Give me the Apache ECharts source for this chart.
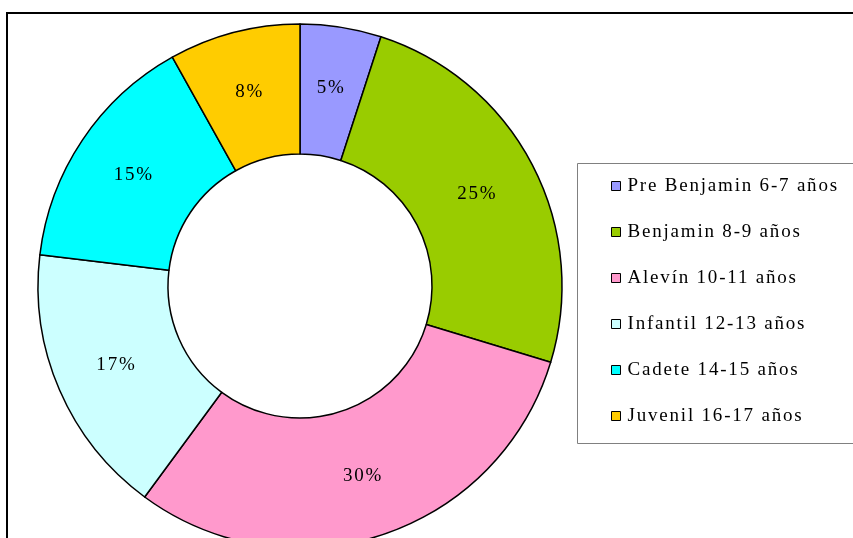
<!DOCTYPE html>
<html>
<head>
<meta charset="utf-8">
<script src="https://cdn.jsdelivr.net/npm/echarts@6/dist/echarts.min.js"></script>
<style>
  html, body { margin: 0; padding: 0; background: #fff; }
  #ch1 { width: 853px; height: 538px; }
</style>
</head>
<body>
<div id="ch1"></div>
<script>
var categories = ['Pre Benjamin 6-7 años', 'Benjamin 8-9 años', 'Alevín 10-11 años',
  'Infantil 12-13 años', 'Cadete 14-15 años', 'Juvenil 16-17 años'];
var values = [5, 24.7, 30.4, 16.8, 15, 8.1];
var colors = ['#9999FF', '#99CC00', '#FF99CC', '#CCFFFF', '#00FFFF', '#FFCC00'];

// Excel-style spaced text
var origFillText = CanvasRenderingContext2D.prototype.fillText;
CanvasRenderingContext2D.prototype.fillText = function() {
  this.letterSpacing = '1.8px';
  var r = origFillText.apply(this, arguments);
  this.letterSpacing = '0px';
  return r;
};

window.onload = function() {
  var ch1 = echarts.init(document.getElementById('ch1'));
  var serif = '"Liberation Serif", "Times New Roman", serif';

  var data = [];
  for (var i = 0; i < categories.length; i++) {
    data.push({ name: categories[i], value: values[i], itemStyle: { color: colors[i] } });
  }

  var op1 = {
    backgroundColor: '#fff',
    animation: false,
    graphic: [{
      // outer chart frame
      type: 'rect',
      shape: { x: 7, y: 13, width: 900, height: 600 },
      style: { fill: 'none', stroke: '#000', lineWidth: 2 },
      z: 0
    }, {
      // legend box
      type: 'rect',
      shape: { x: 577.5, y: 163.5, width: 300, height: 280 },
      style: { fill: '#fff', stroke: '#808080', lineWidth: 1 },
      z: 0
    }],
    legend: {
      orient: 'vertical',
      left: 606,
      top: 171,
      itemWidth: 9,
      itemHeight: 9,
      itemGap: 26,
      icon: 'rect',
      itemStyle: { borderColor: '#000', borderWidth: 1 },
      textStyle: { fontFamily: serif, fontSize: 19, color: '#000', lineHeight: 20, padding: [0, 0, 0, 2] },
      data: categories
    },
    series: [{
      type: 'pie',
      center: [300, 286],
      radius: [132, 262],
      startAngle: 90,
      clockwise: true,
      avoidLabelOverlap: false,
      itemStyle: { borderColor: '#000', borderWidth: 1.5 },
      label: {
        show: true,
        position: 'inside',
        formatter: function(p) { return Math.round(p.percent) + '%'; },
        fontFamily: serif,
        fontSize: 19,
        color: '#000'
      },
      labelLine: { show: false },
      emphasis: { disabled: true },
      data: data
    }]
  };

  ch1.setOption(op1);
};
</script>
</body>
</html>
